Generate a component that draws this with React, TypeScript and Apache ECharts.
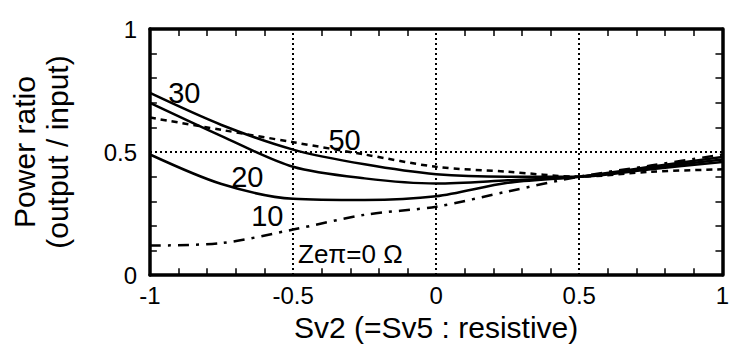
import React, { useEffect, useRef } from "react";
import * as echarts from "echarts";

// Sv2 sample positions along the x axis
const sv2 = [-1, -0.75, -0.5, -0.25, 0, 0.25, 0.5, 0.75, 1];

// Power ratio for each Zeπ value (Ω)
const ratioZ0 = [0.12, 0.13, 0.185, 0.245, 0.278, 0.34, 0.4, 0.445, 0.49];
const ratioZ10 = [0.49, 0.37, 0.31, 0.305, 0.32, 0.375, 0.4, 0.44, 0.48];
const ratioZ20 = [0.7, 0.565, 0.44, 0.393, 0.372, 0.385, 0.4, 0.435, 0.47];
const ratioZ30 = [0.74, 0.61, 0.51, 0.45, 0.41, 0.4, 0.4, 0.43, 0.46];
const ratioZ50 = [0.64, 0.59, 0.54, 0.49, 0.44, 0.42, 0.4, 0.42, 0.43];

// Dotted reference lines
const gridX = [-0.5, 0, 0.5];
const gridY = [0.5];

// Small inward ticks on all four sides of the frame
const xTicks = [-0.9, -0.8, -0.7, -0.6, -0.4, -0.3, -0.2, -0.1, 0.1, 0.2, 0.3, 0.4, 0.6, 0.7, 0.8, 0.9];
const yTicks = [0.1, 0.2, 0.3, 0.4, 0.6, 0.7, 0.8, 0.9];

// Curve annotations: [sv2, ratio, text, fontSize]
const curveLabels: [number, number, string, number][] = [
  [-0.88, 0.74, "30", 29],
  [-0.32, 0.55, "50", 29],
  [-0.66, 0.4, "20", 29],
  [-0.59, 0.24, "10", 29],
  [-0.3, 0.085, "Zeπ=0 Ω", 26],
];

const FONT = '"Liberation Sans", Arial, Helvetica, sans-serif';

// tick length expressed in axis units (about 7 px each way)
const TICK_X = 0.024;
const TICK_Y = 0.028;

const pair = (ys: number[]) => sv2.map((x, i) => [x, ys[i]]);
const isHalf = (v: number) => Math.abs(v * 2 - Math.round(v * 2)) < 1e-6;
const fmt = (v: number) => (isHalf(v) ? String(Math.round(v * 2) / 2) : "");

export default function App() {
  const ref = useRef<HTMLDivElement>(null);

  useEffect(() => {
    if (!ref.current) return;
    const chart = echarts.init(ref.current, undefined, { renderer: "svg" });

    const line = (name: string, ys: number[], type: any, extra: any = {}) => ({
      name,
      type: "line",
      data: pair(ys),
      smooth: 0.3,
      showSymbol: false,
      lineStyle: { color: "#000", width: 2.5, type },
      ...extra,
    });

    const frameLine = { show: true, onZero: false, lineStyle: { color: "#000", width: 3.5 } };

    const tickSegments = [
      ...xTicks.map((x) => [{ coord: [x, 0] }, { coord: [x, TICK_Y] }]),
      ...xTicks.map((x) => [{ coord: [x, 1] }, { coord: [x, 1 - TICK_Y] }]),
      ...yTicks.map((y) => [{ coord: [-1, y] }, { coord: [-1 + TICK_X, y] }]),
      ...yTicks.map((y) => [{ coord: [1, y] }, { coord: [1 - TICK_X, y] }]),
    ];

    chart.setOption({
      animation: false,
      grid: { left: 150, right: 4, top: 29, bottom: 70 },
      xAxis: [
        {
          type: "value",
          min: -1,
          max: 1,
          interval: 0.5,
          axisLine: { ...frameLine },
          axisTick: { show: false },
          splitLine: { show: false },
          axisLabel: { color: "#000", fontFamily: FONT, fontSize: 24, margin: 8, formatter: fmt },
          name: "Sv2 (=Sv5 : resistive)",
          nameLocation: "middle",
          nameGap: 30,
          nameTextStyle: { color: "#000", fontFamily: FONT, fontSize: 30 },
        },
        {
          type: "value",
          min: -1,
          max: 1,
          interval: 0.5,
          position: "top",
          axisLine: { ...frameLine },
          axisTick: { show: false },
          splitLine: { show: false },
          axisLabel: { show: false },
        },
      ],
      yAxis: [
        {
          type: "value",
          min: 0,
          max: 1,
          interval: 0.5,
          axisLine: { ...frameLine },
          axisTick: { show: false },
          splitLine: { show: false },
          axisLabel: {
            color: "#000",
            fontFamily: FONT,
            fontSize: 24,
            margin: 13,
            formatter: fmt,
          },
          name: "Power ratio\n(output / input)",
          nameLocation: "middle",
          nameGap: 76,
          nameTextStyle: { color: "#000", fontFamily: FONT, fontSize: 30, lineHeight: 33 },
        },
        {
          type: "value",
          min: 0,
          max: 1,
          interval: 0.5,
          position: "right",
          axisLine: { ...frameLine },
          axisTick: { show: false },
          splitLine: { show: false },
          axisLabel: { show: false },
        },
      ],
      series: [
        line("30 Ω", ratioZ30, "solid", {
          markLine: {
            silent: true,
            symbol: "none",
            label: { show: false },
            lineStyle: { color: "#000", width: 2, type: [2, 3] },
            data: [...gridX.map((x) => ({ xAxis: x })), ...gridY.map((y) => ({ yAxis: y }))],
          },
        }),
        line("20 Ω", ratioZ20, "solid"),
        line("10 Ω", ratioZ10, "solid"),
        line("50 Ω", ratioZ50, [6, 5]),
        line("0 Ω", ratioZ0, [11, 7, 3, 7], {
          markLine: {
            silent: true,
            symbol: "none",
            label: { show: false },
            lineStyle: { color: "#000", width: 1.5, type: "solid" },
            data: tickSegments,
          },
        }),
      ],
    });

    const pts = curveLabels.map(([x, y, text, size]) => {
      const [px, py] = chart.convertToPixel({ gridIndex: 0 }, [x, y]);
      return { px, py, text, size };
    });
    chart.setOption({
      graphic: pts.map(({ px, py, text, size }) => ({
        type: "text",
        x: px,
        y: py,
        silent: true,
        z: 10,
        style: {
          text,
          fill: "#000",
          font: `${size}px ${FONT}`,
          align: "center",
          verticalAlign: "middle",
        },
      })),
    });

    return () => chart.dispose();
  }, []);

  return (
    <div
      ref={ref}
      style={{ position: "fixed", left: 0, top: 0, width: 732, height: 347, background: "#fff" }}
    />
  );
}
